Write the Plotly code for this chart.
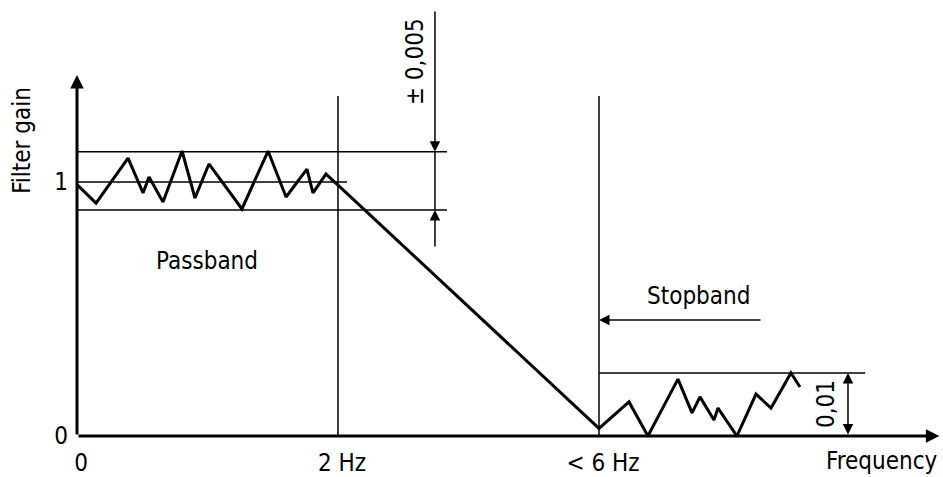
import plotly.graph_objects as go

# ---- data (schematic units: x in "frequency steps", y in gain) ----
pass_x = [0.0, 0.146, 0.391, 0.506, 0.552, 0.659, 0.805, 0.904, 1.011, 1.264,
          1.464, 1.602, 1.762, 1.808, 1.908, 2.0]
pass_y = [0.99, 0.917, 1.094, 0.957, 1.020, 0.921, 1.122, 0.937, 1.071, 0.894,
          1.122, 0.941, 1.051, 0.957, 1.031, 0.988]
stop_x = [4.0, 4.23, 4.375, 4.605, 4.713, 4.774, 4.881, 4.912, 5.057, 5.203,
          5.318, 5.471, 5.540]
stop_y = [0.03, 0.134, 0.0, 0.224, 0.091, 0.154, 0.063, 0.110, 0.0, 0.165,
          0.110, 0.248, 0.193]

x_tickvals = [0, 2, 4]
x_ticktext = ["0", "2 Hz", "< 6 Hz"]
y_tickvals = [0, 1]
y_ticktext = ["0", "1"]

edge_pass = 2.0      # passband edge
edge_stop = 4.0      # stopband edge
gain_nom = 1.0
band_hi = 1.119
band_lo = 0.890
stop_hi = 0.248

XMAX = 863 / 130.5
YMAX = 436 / 254

FONT = "DejaVu Sans Condensed, Liberation Sans Narrow, DejaVu Sans"
FSIZE = 24
BLACK = "#000000"
THIN = 1.5
THICK = 3

fig = go.Figure()
fig.add_trace(go.Scatter(
    x=pass_x + stop_x, y=pass_y + stop_y, mode="lines",
    line=dict(color=BLACK, width=THICK), hoverinfo="skip", showlegend=False,
    cliponaxis=False))

def hline(y, x0, x1, w=THIN):
    fig.add_shape(type="line", x0=x0, x1=x1, y0=y, y1=y,
                  line=dict(color=BLACK, width=w), layer="above")

def vline(x, y0, y1, w=THIN):
    fig.add_shape(type="line", x0=x, x1=x, y0=y0, y1=y1,
                  line=dict(color=BLACK, width=w), layer="above")

def arrow(x, y, ax, ay, w=THIN, size=1.0, side="end"):
    fig.add_annotation(x=x, y=y, ax=ax, ay=ay, xref="x", yref="y",
                       axref="x", ayref="y", text="", showarrow=True,
                       arrowhead=2, arrowsize=size, arrowwidth=w,
                       arrowcolor=BLACK, standoff=0, startstandoff=0,
                       arrowside=side, startarrowhead=2, startarrowsize=size)

# axes with arrows
arrow(XMAX - 0.005, 0, 0, 0, w=THICK, size=0.9)
arrow(0, 1.421, 0, 0, w=THICK, size=0.9)

# vertical edge lines
vline(edge_pass, 0, 1.339)
vline(edge_stop, 0, 1.339)

# tolerance lines
hline(band_hi, 0, 2.835)
hline(band_lo, 0, 2.835)
hline(gain_nom, 0, 2.069)
hline(stop_hi, edge_stop, 6.04)

# passband tolerance dimension
dim_x = 2.743
arrow(dim_x, band_hi, dim_x, 1.677, size=1.4)
vline(dim_x, band_lo, band_hi)
arrow(dim_x, band_lo, dim_x, 0.740, size=1.4)

# stopband dimension
arrow(5.908, stop_hi, 5.908, 0, size=1.4, side="end+start")

# stopband arrow
arrow(edge_stop, 0.457, 5.249, 0.457, size=1.4)

def label(text, x, y, angle=0, xref="x", yref="y", xanchor="center"):
    fig.add_annotation(x=x, y=y, xref=xref, yref=yref, text=text,
                       showarrow=False, textangle=angle,
                       xanchor=xanchor, yanchor="middle",
                       font=dict(family=FONT, size=FSIZE, color=BLACK))

label("Passband", 0.996, 0.689)
label("Stopband", 4.76, 0.551)
label("± 0,005", 2.59, 1.472, angle=-90)
label("0,01", 5.74, 0.126, angle=-90)
label("Filter gain", -0.0637, 0.677, angle=-90, xref="paper", yref="paper")
label("Frequency", 1.0, -0.058, xref="paper", yref="paper", xanchor="right")

fig.update_layout(
    width=943, height=477,
    margin=dict(l=77, r=3, t=0, b=41),
    paper_bgcolor="white", plot_bgcolor="white",
    showlegend=False,
    font=dict(family=FONT, size=FSIZE, color=BLACK),
    xaxis=dict(range=[0, XMAX], showline=False, showgrid=False,
               zeroline=False, ticks="", tickvals=x_tickvals,
               ticktext=x_ticktext, ticklabelstandoff=10, ticklabelshift=4,
               automargin=False, fixedrange=True),
    yaxis=dict(range=[0, YMAX], showline=False, showgrid=False,
               zeroline=False, ticks="", tickvals=y_tickvals,
               ticktext=y_ticktext, ticklabelstandoff=8, automargin=False,
               fixedrange=True),
)

fig.write_html("out.html", config={"displayModeBar": False},
               post_script="document.body.style.margin='0px';"
                           "document.body.style.overflow='hidden';")
